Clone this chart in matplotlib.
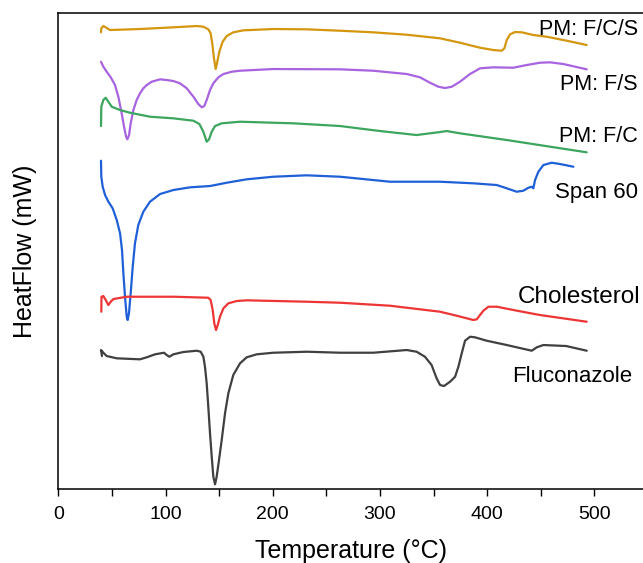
import matplotlib
matplotlib.use("Agg")
import matplotlib.pyplot as plt
from matplotlib.ticker import MultipleLocator

plt.rcParams['font.family'] = ['Liberation Sans', 'DejaVu Sans']

# DSC thermograms (heat flow in arbitrary, stacked units)
t_fcs = [39.8, 40.1, 42.0, 44.2, 48.2, 76.2, 107.3, 129.1, 135.3, 139.9, 142.1, 143.6, 145.2,
         146.8, 148.3, 150.2, 153.3, 157.1, 163.2, 172.6, 200.6, 231.7, 262.8, 293.8, 325,
         356.1, 374.7, 393.4, 405.8, 413.6, 416.1, 418.3, 421.4, 426.1, 432.3, 443.1, 455.6,
         474.3, 492.9]
hf_fcs = [45.67, 46.07, 46.3, 46.17, 45.9, 46.0, 46.17, 46.3, 46.23, 45.97, 45.57, 44.57, 43.07,
          42.0, 42.73, 43.73, 44.73, 45.3, 45.67, 45.87, 46.0, 45.97, 45.83, 45.67, 45.43,
          45.07, 44.63, 44.13, 43.9, 43.83, 44.07, 44.9, 45.47, 45.7, 45.67, 45.4, 45.23,
          44.83, 44.4]

t_fs = [39.8, 42.0, 45.1, 48.9, 52.9, 56.0, 59.1, 61.3, 63.2, 64.4, 66.0, 67.5, 70.0, 73.1,
        76.2, 79.3, 82.5, 87.1, 94.9, 101.1, 107.3, 113.5, 119.8, 126, 130.6, 133.8, 136.2,
        138.4, 141.5, 144.6, 149.3, 154, 161.8, 169.5, 200.6, 262.8, 293.8, 325, 337.4,
        346.7, 354.5, 360.7, 367, 374.7, 384, 393.4, 405.8, 424.4, 436.9, 449.3, 458.7,
        471.1, 492.9]
hf_fs = [42.73, 42.23, 41.73, 41.17, 40.4, 39.23, 37.57, 36.23, 35.23, 34.97, 35.4, 36.57, 37.9, 38.9,
         39.57, 40.07, 40.4, 40.73, 40.97, 40.9, 40.8, 40.57, 40.07, 39.23, 38.5, 38.17, 38.3,
         38.9, 39.9, 40.57, 41.17, 41.5, 41.73, 41.83, 42.0, 41.97, 41.83, 41.5, 41.17,
         40.63, 40.23, 40.1, 40.23, 40.73, 41.5, 42.07, 42.17, 42.13, 42.4, 42.63, 42.67,
         42.5, 41.97]

t_fc = [39.8, 40.1, 42.0, 44.2, 46.7, 49.8, 57.6, 66.9, 85.5, 107.3, 126, 131.6, 135.3, 138.4,
        140.6, 143.1, 146.2, 152.4, 169.5, 219.3, 262.8, 300, 334.2, 346.7, 356.1, 362.3,
        374.7, 418.3, 492.9]
hf_fc = [36.3, 38.23, 38.9, 39.13, 38.73, 38.23, 37.9, 37.63, 37.23, 37.07, 36.83, 36.5, 35.73, 34.73,
         34.97, 35.73, 36.3, 36.57, 36.73, 36.57, 36.3, 35.8, 35.4, 35.57, 35.7, 35.8,
         35.57, 34.9, 33.67]

t_span = [39.8, 40.1, 41.4, 43.6, 46.7, 50.7, 54.5, 57.6, 59.4, 60.7, 62.2, 63.8, 64.7, 65.9,
          67.5, 69.4, 71.5, 74.6, 79.3, 85.5, 94.9, 107.3, 122.9, 141.5, 157.1, 175.7, 200.6,
          231.7, 262.8, 309.4, 356.1, 387.2, 409, 418.3, 427.6, 433.8, 438.5, 441.6, 443.1,
          444.7, 447.8, 452.5, 460.2, 468, 480.5]
hf_span = [32.83, 31.23, 30.23, 29.4, 28.73, 28.07, 26.9, 25.57, 23.9, 21.57, 19.23, 17.23, 16.9, 17.57,
           19.57, 22.23, 24.57, 26.4, 27.73, 28.73, 29.5, 29.9, 30.17, 30.3, 30.63, 30.97, 31.23,
           31.37, 31.23, 30.73, 30.73, 30.57, 30.4, 30.07, 29.73, 29.83, 30.13, 30.23, 30.07,
           30.9, 31.73, 32.4, 32.63, 32.5, 32.23]

t_chol = [40.1, 40.3, 42.0, 44.2, 46.7, 48.9, 51.4, 63.8, 107.3, 139.9, 142.1, 144.0, 145.5,
          147.1, 148.7, 150.8, 154, 158.6, 166.4, 175.7, 231.7, 262.8, 309.4, 356.1, 371.6,
          387.2, 390.3, 393.4, 396.5, 401.2, 409, 424.5, 449.3, 492.9]
hf_chol = [17.73, 19.23, 19.3, 18.9, 18.4, 18.73, 19.0, 19.23, 19.23, 19.13, 18.9, 17.9, 16.57,
           15.9, 16.4, 17.23, 18.07, 18.57, 18.8, 18.87, 18.73, 18.63, 18.33, 17.73, 17.33,
           16.9, 16.97, 17.4, 17.83, 18.23, 18.23, 17.9, 17.4, 16.73]

t_flu = [40.7, 39.8, 42.0, 45.1, 54.5, 76.2, 82.4, 90.2, 98.6, 101.1, 103.6, 107.3, 116.6, 129.1,
         132.8, 135.3, 136.8, 138.4, 139.9, 141.5, 143.1, 144.6, 146.2, 147.7, 149.9, 152.4,
         155.5, 158.6, 163.2, 169.5, 175.7, 185, 200.6, 231.7, 262.8, 293.8, 325, 334.2, 342,
         348.2, 352.9, 356.1, 359.8, 365.4, 370.1, 373.2, 376.3, 379.4, 384.1, 388.7, 399.6,
         418.3, 441.6, 446.3, 452.5, 473.7, 492.9]
hf_flu = [13.3, 13.9, 13.63, 13.3, 13.07, 12.97, 13.17, 13.47, 13.63, 13.4, 13.23, 13.47, 13.7, 13.83,
          13.73, 13.23, 12.23, 10.57, 8.23, 5.57, 3.23, 1.23, 0.47, 1.23, 2.9, 4.9,
          7.57, 9.57, 11.4, 12.57, 13.17, 13.47, 13.63, 13.73, 13.63, 13.63, 13.9, 13.73, 13.23,
          12.4, 11.07, 10.4, 10.3, 10.73, 11.23, 12.23, 13.57, 14.83, 15.23, 15.17, 14.83,
          14.4, 13.83, 14.17, 14.4, 14.3, 13.83]

curves = [
    (t_fcs, hf_fcs, '#d4960f', 'PM: F/C/S', 540.5, 45.4, 15.5),
    (t_fs, hf_fs, '#a863e0', 'PM: F/S', 540.5, 39.9, 15.5),
    (t_fc, hf_fc, '#3ca55e', 'PM: F/C', 540.5, 34.73, 15.5),
    (t_span, hf_span, '#1f60d8', 'Span 60', 540.5, 29.07, 16),
    (t_chol, hf_chol, '#ee3535', 'Cholesterol', 542.5, 18.63, 17.5),
    (t_flu, hf_flu, '#404040', 'Fluconazole', 535.8, 10.73, 16),
]

fig = plt.figure(figsize=(6.43, 5.63), dpi=100)
ax = fig.add_axes([0.0907, 0.1314, 0.9093, 0.846])

for t, hf, col, name, lx, ly, fs in curves:
    ax.plot(t, hf, color=col, lw=1.6, solid_joinstyle='round', solid_capstyle='round')
    ax.text(lx, ly, name, ha='right', va='baseline', fontsize=fs, color='black')

ax.set_xlim(0, 545.4)
ax.set_ylim(0, 47.63)
ax.xaxis.set_major_locator(MultipleLocator(100))
ax.xaxis.set_minor_locator(MultipleLocator(50))
ax.tick_params(axis='x', which='both', direction='out', length=5, width=1, labelsize=14, pad=7.5)
ax.set_yticks([])
ax.spines['right'].set_visible(False)
for s in ['left', 'top', 'bottom']:
    ax.spines[s].set_linewidth(1.1)

ax.set_xlabel('Temperature (°C)', fontsize=18, labelpad=11)
ax.set_ylabel('HeatFlow (mW)', fontsize=18, labelpad=15)

fig.savefig('out.png', dpi=100)
